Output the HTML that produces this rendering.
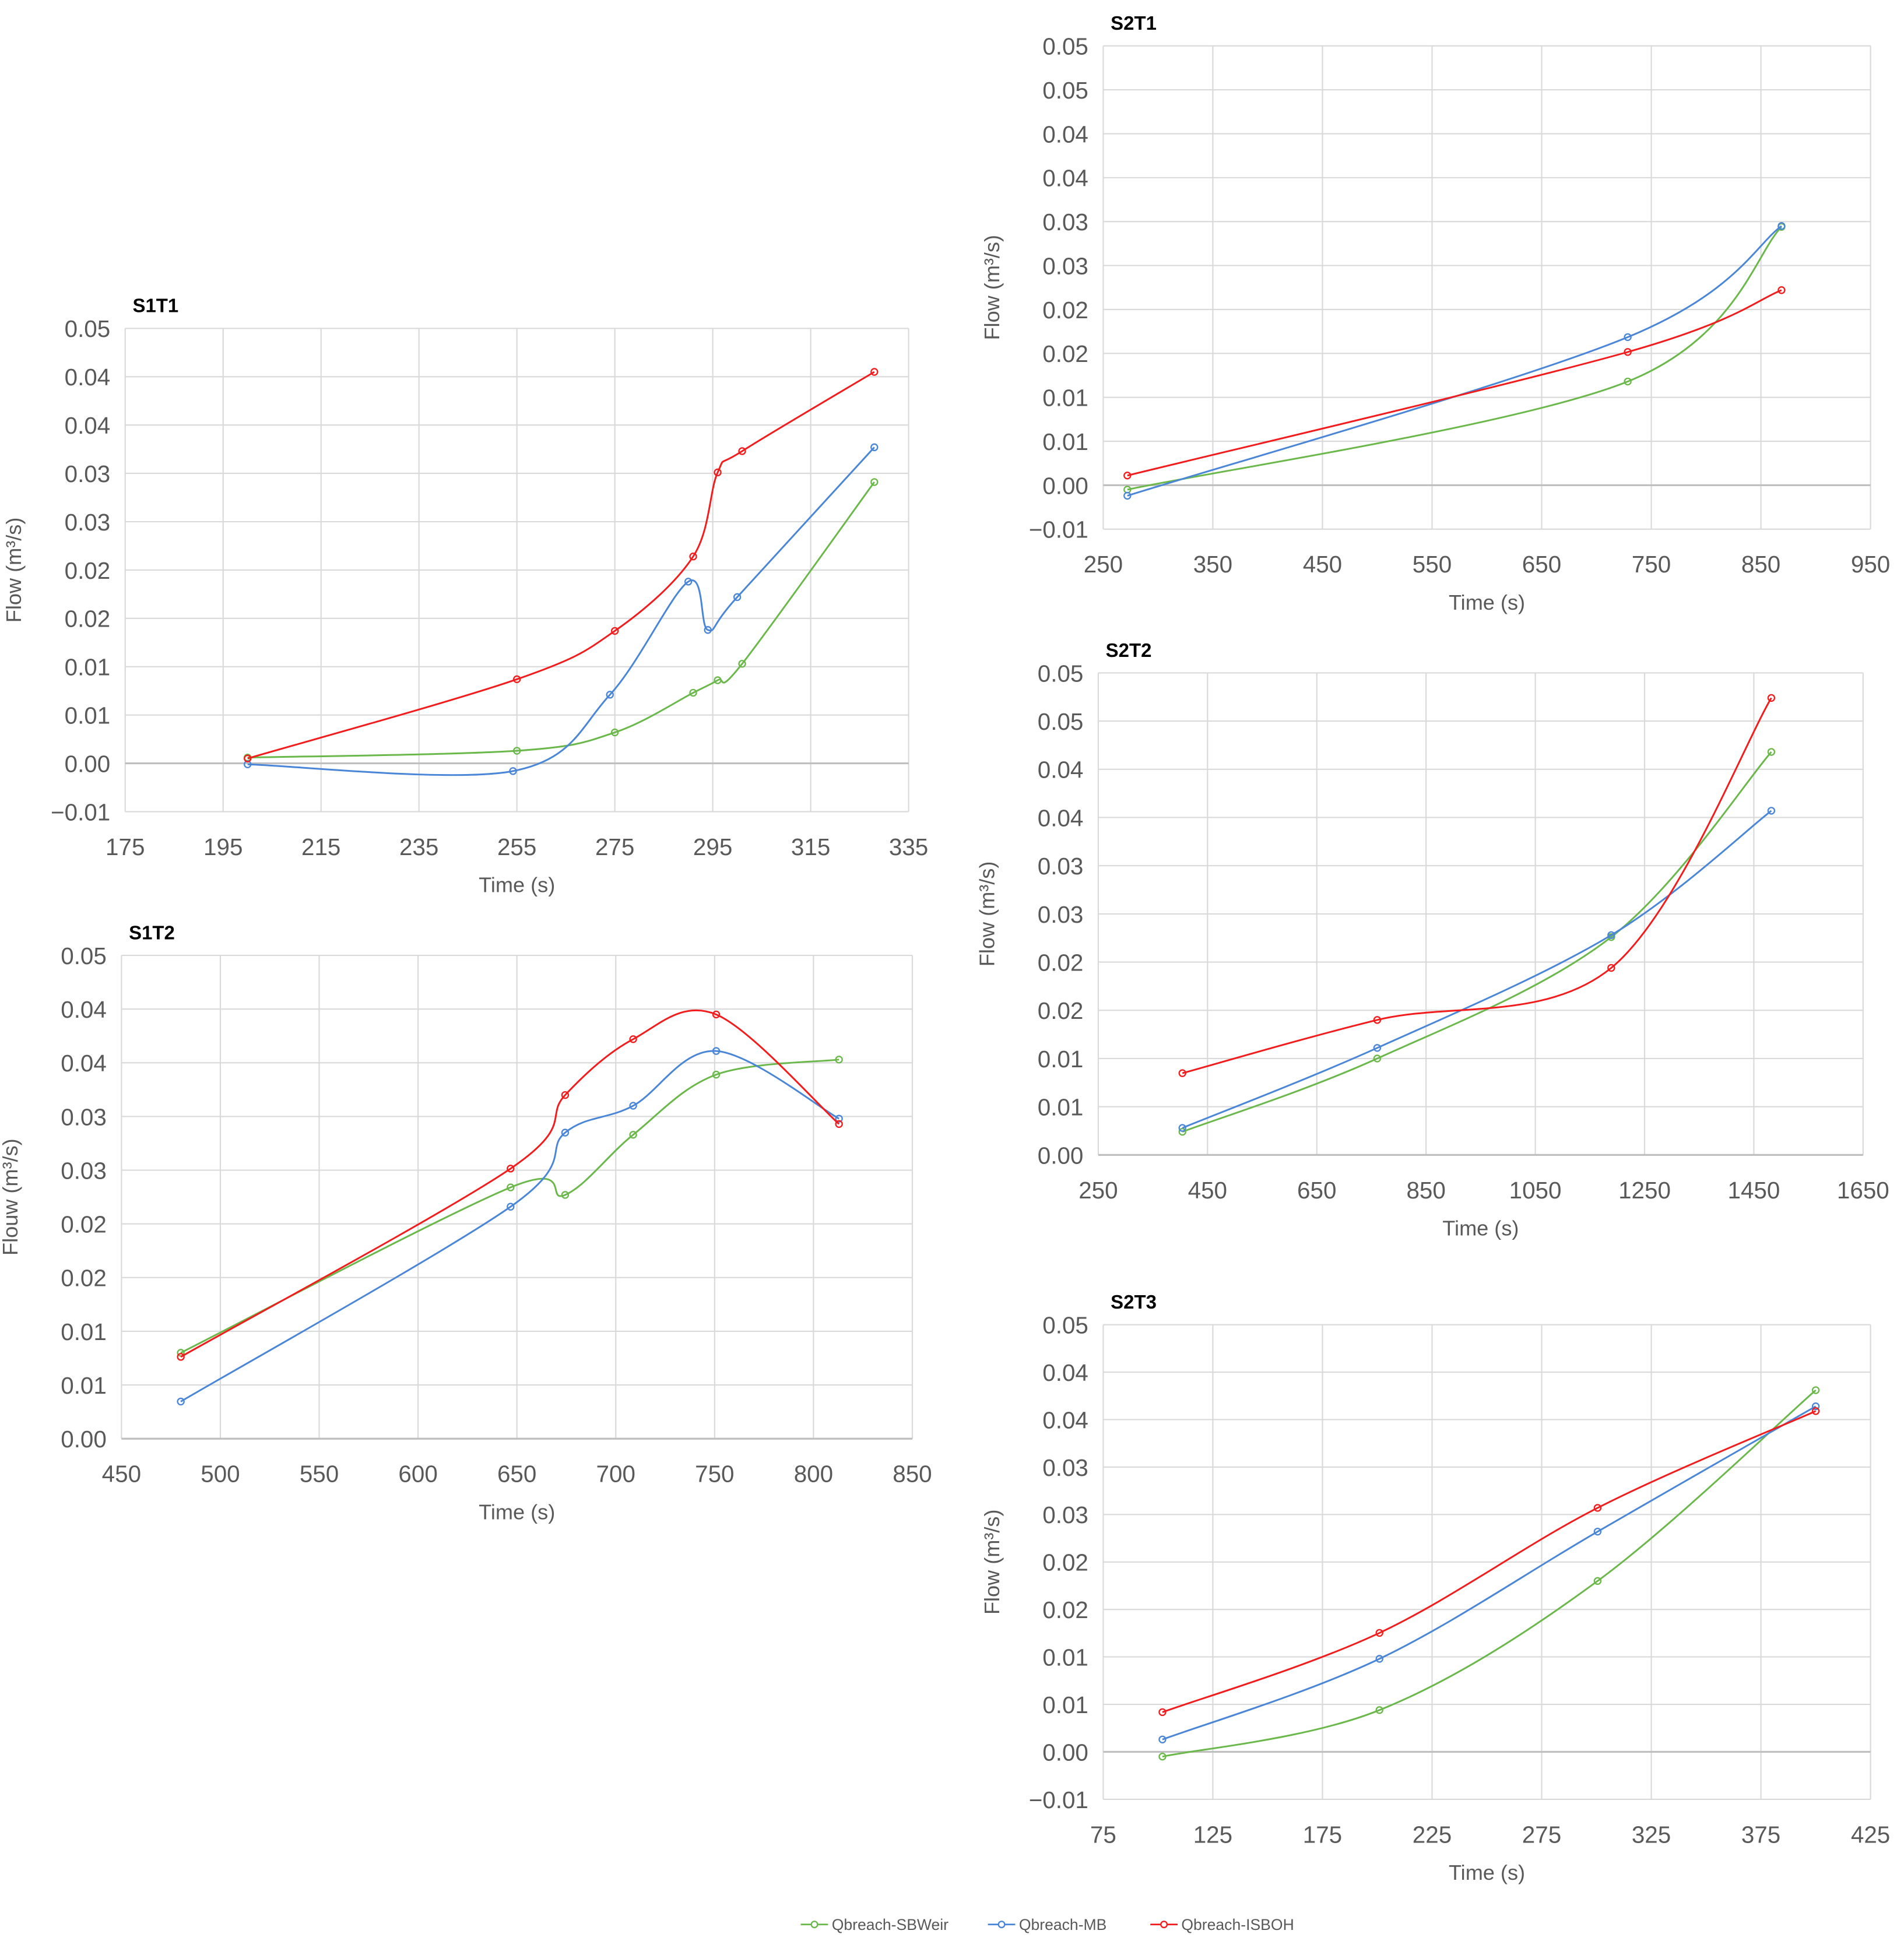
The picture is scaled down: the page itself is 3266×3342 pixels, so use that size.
<!DOCTYPE html>
<html><head><meta charset="utf-8"><style>
html,body{margin:0;padding:0;background:#fff}
svg{display:block}
text{font-family:"Liberation Sans",sans-serif}
</style></head><body>
<svg id="root" width="3266" height="3342" viewBox="0 0 1536 1572" preserveAspectRatio="none" xmlns="http://www.w3.org/2000/svg">
<rect width="1536" height="1572" fill="#fff"/>
<g id="legend" font-size="12.5" fill="#595959">
 <g><line x1="646" y1="1553" x2="668" y2="1553" stroke="#6ab84a" stroke-width="1.3"/><circle cx="657" cy="1553" r="2.5" fill="#fff" stroke="#6ab84a" stroke-width="1.1"/><text x="671" y="1557.5">Qbreach-SBWeir</text></g>
 <g><line x1="797" y1="1553" x2="819" y2="1553" stroke="#4a86d8" stroke-width="1.3"/><circle cx="808" cy="1553" r="2.5" fill="#fff" stroke="#4a86d8" stroke-width="1.1"/><text x="822" y="1557.5">Qbreach-MB</text></g>
 <g><line x1="928" y1="1553" x2="950" y2="1553" stroke="#f21c1c" stroke-width="1.3"/><circle cx="939" cy="1553" r="2.5" fill="#fff" stroke="#f21c1c" stroke-width="1.1"/><text x="953" y="1557.5">Qbreach-ISBOH</text></g>
</g>
</svg>
<script>
// ---- S1T1 data ----
const s1t1Time=[200,255,275,291,296,301,328];
const s1t1TimeMB=[200,254.2,274,290,294,300,328];
const s1t1SBWeir=[0.0006,0.0013,0.0032,0.0073,0.0086,0.0103,0.0291];
const s1t1MB=[-0.0001,-0.0008,0.0071,0.0188,0.0138,0.0172,0.0327];
const s1t1ISBOH=[0.0005,0.0087,0.0137,0.0214,0.0301,0.0323,0.0405];
const s1t1XTicks=[175,195,215,235,255,275,295,315,335];
const s1t1YTicks=[-0.005,0,0.005,0.01,0.015,0.02,0.025,0.03,0.035,0.04,0.045];
// ---- S1T2 data ----
const s1t2Time=[480,646.8,674.4,708.8,750.8,812.9];
const s1t2SBWeir=[0.0080,0.0234,0.0227,0.0283,0.0339,0.0353];
const s1t2MB=[0.00346,0.0216,0.0285,0.0310,0.0361,0.0298];
const s1t2ISBOH=[0.00762,0.02515,0.0320,0.0372,0.0395,0.0293];
const s1t2XTicks=[450,500,550,600,650,700,750,800,850];
const s1t2YTicks=[0,0.005,0.01,0.015,0.02,0.025,0.03,0.035,0.04,0.045];
// ---- S2T1 data ----
const s2t1Time=[272,728.5,868.8];
const s2t1SBWeir=[-0.0005,0.0118,0.0294];
const s2t1MB=[-0.0012,0.01685,0.0295];
const s2t1ISBOH=[0.0011,0.01516,0.0222];
const s2t1XTicks=[250,350,450,550,650,750,850,950];
const s2t1YTicks=[-0.005,0,0.005,0.01,0.015,0.02,0.025,0.03,0.035,0.04,0.045,0.05];
// ---- S2T2 data ----
const s2t2Time=[404,760.6,1189,1482];
const s2t2SBWeir=[0.0024,0.0100,0.0226,0.0418];
const s2t2MB=[0.0028,0.0111,0.0228,0.0357];
const s2t2ISBOH=[0.00848,0.0140,0.0194,0.0474];
const s2t2XTicks=[250,450,650,850,1050,1250,1450,1650];
const s2t2YTicks=[0,0.005,0.01,0.015,0.02,0.025,0.03,0.035,0.04,0.045,0.05];
// ---- S2T3 data ----
const s2t3Time=[102,201,300.5,400];
const s2t3SBWeir=[-0.0005,0.0044,0.0180,0.0381];
const s2t3MB=[0.0013,0.0098,0.0232,0.0364];
const s2t3ISBOH=[0.00418,0.01253,0.0257,0.0359];
const s2t3XTicks=[75,125,175,225,275,325,375,425];
const s2t3YTicks=[-0.005,0,0.005,0.01,0.015,0.02,0.025,0.03,0.035,0.04,0.045];

const NS='http://www.w3.org/2000/svg';
const root=document.getElementById('root');
const GREEN='#6ab84a',BLUE='#4a86d8',RED='#f21c1c';
function mk(tag,attrs,parent){const e=document.createElementNS(NS,tag);for(const k in attrs)e.setAttribute(k,attrs[k]);parent.appendChild(e);return e;}
function fmt(v){let r=Math.round(v*100+1e-9*Math.sign(v||1))/100;let s=Math.abs(r).toFixed(2);return (v<0?'\u2212':'')+s;}
function smoothPath(pts){
  let d='M'+pts[0][0]+','+pts[0][1];
  for(let i=0;i<pts.length-1;i++){
    const p0=pts[i-1]||pts[i],p1=pts[i],p2=pts[i+1],p3=pts[i+2]||pts[i+1];
    const c1=[p1[0]+(p2[0]-p0[0])/6,p1[1]+(p2[1]-p0[1])/6];
    const c2=[p2[0]-(p3[0]-p1[0])/6,p2[1]-(p3[1]-p1[1])/6];
    d+=' C'+c1[0]+','+c1[1]+' '+c2[0]+','+c2[1]+' '+p2[0]+','+p2[1];
  }
  return d;
}
function chart(cfg){
  const g=mk('g',{},root);
  
  
  const {L,R,T,B,xmin,xmax,ymin,ymax}=cfg;
  const sx=v=>L+(v-xmin)/(xmax-xmin)*(R-L);
  const sy=v=>B-(v-ymin)/(ymax-ymin)*(B-T);
  const t=mk('text',{x:L+6,y:T-13,'font-size':15.5,'font-weight':'bold',fill:'#000'},g);
  t.textContent=cfg.title;
  
  
  cfg.xt.forEach(v=>{
    const l=mk('line',{x1:sx(v),x2:sx(v),y1:T,y2:B,stroke:'#d9d9d9','stroke-width':1},g);
    
    
    const tx=mk('text',{x:sx(v),y:B+35,'font-size':19,fill:'#595959','text-anchor':'middle'},g);
    tx.textContent=String(v);
    
    
  });
  cfg.yt.forEach(v=>{
    const zero=Math.abs(v)<1e-12;
    const l=mk('line',{x1:L,x2:R,y1:sy(v),y2:sy(v),stroke:zero?'#bfbfbf':'#d9d9d9','stroke-width':zero?1.5:1},g);
    
    
    const ty=mk('text',{x:L-12,y:sy(v)+7,'font-size':19,fill:'#595959','text-anchor':'end'},g);
    ty.textContent=fmt(v);
    
    
  });
  const xa=mk('text',{x:(L+R)/2,y:B+65,'font-size':17,fill:'#595959','text-anchor':'middle'},g);
  xa.textContent='Time (s)';
  
  
  const yx=L-84,yy=(T+B)/2;
  const ya=mk('text',{x:yx,y:yy,'font-size':17,fill:'#595959','text-anchor':'middle',transform:'rotate(-90 '+yx+' '+yy+')'},g);
  ya.textContent=cfg.ylab;
  
  
  cfg.series.forEach(s=>{
    const pts=s.y.map((v,i)=>[sx(s.x[i]),sy(v)]);
    const p=mk('path',{d:smoothPath(pts),fill:'none',stroke:s.c,'stroke-width':1.4},g);
    
    
    pts.forEach(q=>{
      const c=mk('circle',{cx:q[0],cy:q[1],r:2.6,fill:'none',stroke:s.c,'stroke-width':1.1},g);
      
      
    });
  });
}
chart({name:'chart-s1t1',title:'S1T1',ylab:'Flow (m³/s)',L:101,R:733,T:265,B:655,xmin:175,xmax:335,ymin:-0.005,ymax:0.045,xt:s1t1XTicks,yt:s1t1YTicks,
 series:[{n:'sbweir',c:GREEN,x:s1t1Time,y:s1t1SBWeir},{n:'mb',c:BLUE,x:s1t1TimeMB,y:s1t1MB},{n:'isboh',c:RED,x:s1t1Time,y:s1t1ISBOH}]});
chart({name:'chart-s1t2',title:'S1T2',ylab:'Flouw (m³/s)',L:98,R:736,T:771,B:1161,xmin:450,xmax:850,ymin:0,ymax:0.045,xt:s1t2XTicks,yt:s1t2YTicks,
 series:[{n:'sbweir',c:GREEN,x:s1t2Time,y:s1t2SBWeir},{n:'mb',c:BLUE,x:s1t2Time,y:s1t2MB},{n:'isboh',c:RED,x:s1t2Time,y:s1t2ISBOH}]});
chart({name:'chart-s2t1',title:'S2T1',ylab:'Flow (m³/s)',L:890,R:1509,T:37,B:427,xmin:250,xmax:950,ymin:-0.005,ymax:0.05,xt:s2t1XTicks,yt:s2t1YTicks,
 series:[{n:'sbweir',c:GREEN,x:s2t1Time,y:s2t1SBWeir},{n:'mb',c:BLUE,x:s2t1Time,y:s2t1MB},{n:'isboh',c:RED,x:s2t1Time,y:s2t1ISBOH}]});
chart({name:'chart-s2t2',title:'S2T2',ylab:'Flow (m³/s)',L:886,R:1503,T:543,B:932,xmin:250,xmax:1650,ymin:0,ymax:0.05,xt:s2t2XTicks,yt:s2t2YTicks,
 series:[{n:'sbweir',c:GREEN,x:s2t2Time,y:s2t2SBWeir},{n:'mb',c:BLUE,x:s2t2Time,y:s2t2MB},{n:'isboh',c:RED,x:s2t2Time,y:s2t2ISBOH}]});
chart({name:'chart-s2t3',title:'S2T3',ylab:'Flow (m³/s)',L:890,R:1509,T:1069,B:1452,xmin:75,xmax:425,ymin:-0.005,ymax:0.045,xt:s2t3XTicks,yt:s2t3YTicks,
 series:[{n:'sbweir',c:GREEN,x:s2t3Time,y:s2t3SBWeir},{n:'mb',c:BLUE,x:s2t3Time,y:s2t3MB},{n:'isboh',c:RED,x:s2t3Time,y:s2t3ISBOH}]});
root.appendChild(document.getElementById('legend'));
</script>
</body></html>
